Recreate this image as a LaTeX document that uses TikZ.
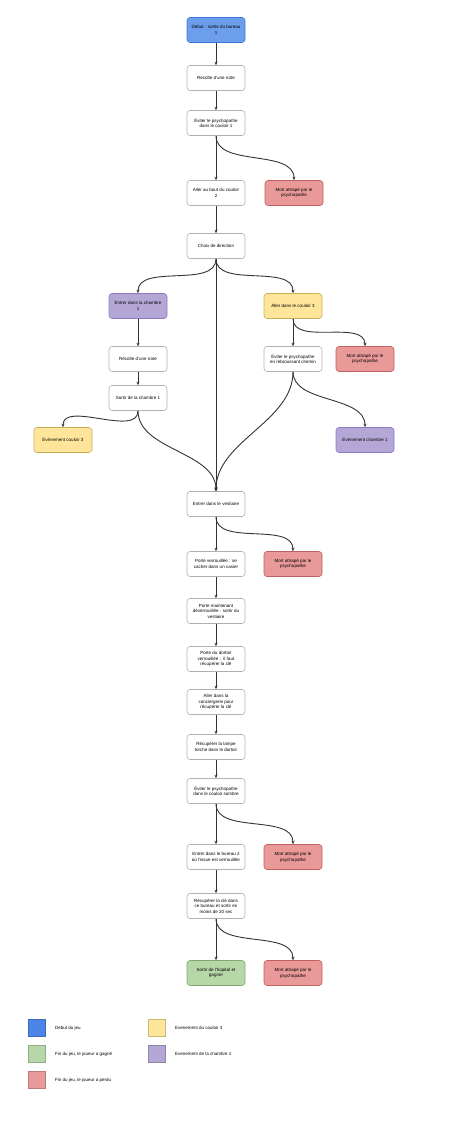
\documentclass[tikz,border=0pt]{standalone}
\usepackage{fontspec}
\setmainfont{Liberation Sans}
\usetikzlibrary{arrows.meta}
\definecolor{bluef}{HTML}{6D9EEB}\definecolor{blued}{HTML}{3C78D8}
\definecolor{blueleg}{HTML}{4A86E8}
\definecolor{redf}{HTML}{EA9999}\definecolor{redd}{HTML}{C06060}
\definecolor{yelf}{HTML}{FFE599}\definecolor{yeld}{HTML}{C9AE5A}
\definecolor{purf}{HTML}{B4A7D6}\definecolor{purd}{HTML}{8E7CC3}
\definecolor{grnf}{HTML}{B6D7A8}\definecolor{grnd}{HTML}{82A870}
\definecolor{boxd}{HTML}{B0B0B0}
\definecolor{edgec}{HTML}{333333}
\newcommand\myboxfont{\fontsize{4.5}{5.6}\selectfont}
\tikzset{
  box/.style={draw=boxd, fill=white, line width=0.6pt, rounded corners=3pt,
    minimum width=58pt, minimum height=25pt, align=center,
    inner sep=1pt, font=\myboxfont},
  bluebox/.style={box, fill=bluef, draw=blued},
  redbox/.style={box, fill=redf, draw=redd},
  yelbox/.style={box, fill=yelf, draw=yeld},
  purbox/.style={box, fill=purf, draw=purd},
  grnbox/.style={box, fill=grnf, draw=grnd},
  arr/.style={draw=edgec, line width=0.9pt, -{Stealth[length=3.5pt,width=3pt]}},
  carr/.style={arr, out=-90, in=90, looseness=0.9},
  legsq/.style={draw=#1!80!black, fill=#1, minimum width=17pt, minimum height=17pt, inner sep=0pt},
  legtx/.style={anchor=west, inner sep=0pt, font=\fontsize{4.5}{5.6}\selectfont},
}
\begin{document}
\begin{tikzpicture}[x=1pt,y=-1pt]
\useasboundingbox (0,0) rectangle (474,1137);
% main column
\node[bluebox] (n1) at (216,30) {Debut : sortie du bureau\\1};
\node[box] (n2) at (216,78) {Recolte d'une note};
\node[box] (n3) at (216,123) {Éviter le psychopathe\\dans le couloir 1};
\node[box] (n4) at (216,193) {Aller au bout du couloir\\2};
\node[redbox] (m1) at (294,193) {Mort attrapé par le\\psychopathe};
\node[box] (n5) at (216,246) {Choix de direction};
% left branch
\node[purbox] (c1) at (138,306) {Entrer dans la chambre\\1};
\node[box] (c2) at (138,359) {Récolte d'une note};
\node[box] (c3) at (138,398) {Sortir de la chambre 1};
\node[yelbox] (c4) at (63,440) {Évènement couloir 3};
% right branch
\node[yelbox] (r1) at (293,306) {Aller dans le couloir 3};
\node[box] (r2) at (293,359) {Éviter le psychopathe\\en rebroussant chemin};
\node[redbox] (m2) at (365,359) {Mort attrapé par le\\psychopathe};
\node[purbox] (r3) at (365,440) {Évènement chambre 1};
% lower column
\node[box] (v1) at (216,504) {Entrer dans le vestiaire};
\node[box] (v2) at (216,564) {Porte verrouillée : se\\cacher dans un casier};
\node[redbox] (m3) at (293,564) {Mort attrapé par le\\psychopathe};
\node[box] (v3) at (216,611) {Porte maintenant\\déverrouillée : sortir du\\vestiaire};
\node[box] (v4) at (216,659) {Porte du dortoir\\verrouillée :\ \ il faut\\récupérer la clé};
\node[box] (v5) at (216,702) {Aller dans la\\conciergerie pour\\récupérer la clé};
\node[box] (v6) at (216,747) {Récupérer la lampe\\torche dans le dortoir};
\node[box] (v7) at (216,791) {Éviter le psychopathe\\dans le couloir sombre};
\node[box] (v8) at (216,857) {Entrer dans le bureau 2\\où l'issue est verrouillée};
\node[redbox] (m4) at (293,857) {Mort attrapé par le\\psychopathe};
\node[box] (v9) at (216,906) {Récupérer la clé dans\\ce bureau et sortir en\\moins de 20 sec};
\node[grnbox] (w1) at (216,973) {Sortir de l'hopital et\\gagner};
\node[redbox] (m5) at (293,973) {Mort attrapé par le\\psychopathe};
% edges
\draw[arr] (n1) -- (n2);
\draw[arr] (n2) -- (n3);
\draw[arr] (n3) -- (n4);
\draw[carr] (n3.south) to (m1.north);
\draw[arr] (n4) -- (n5);
\draw[carr] (n5.south) to (c1.north);
\draw[carr] (n5.south) to (r1.north);
\draw[arr] (n5.south) -- (v1.north);
\draw[arr] (c1) -- (c2);
\draw[arr] (c2) -- (c3);
\draw[carr] (c3.south) to (c4.north);
\draw[carr] (c3.south) to (v1.north);
\draw[arr] (r1) -- (r2);
\draw[carr] (r1.south) to (m2.north);
\draw[carr] (r2.south) to (v1.north);
\draw[carr] (r2.south) to (r3.north);
\draw[arr] (v1) -- (v2);
\draw[carr] (v1.south) to (m3.north);
\draw[arr] (v2) -- (v3);
\draw[arr] (v3) -- (v4);
\draw[arr] (v4) -- (v5);
\draw[arr] (v5) -- (v6);
\draw[arr] (v6) -- (v7);
\draw[arr] (v7) -- (v8);
\draw[carr] (v7.south) to (m4.north);
\draw[arr] (v8) -- (v9);
\draw[arr] (v9) -- (w1);
\draw[carr] (v9.south) to (m5.north);
% legend
\node[legsq=blueleg] (l1) at (36.5,1028) {};
\node[legtx] (t1) at (55,1028) {Debut du jeu};
\node[legsq=grnf] (l2) at (36.5,1054) {};
\node[legtx] (t2) at (55,1054) {Fin du jeu, le joueur a gagné};
\node[legsq=redf] (l3) at (36.5,1080) {};
\node[legtx] (t3) at (55,1080) {Fin du jeu, le joueur a perdu};
\node[legsq=yelf] (l4) at (156.5,1028) {};
\node[legtx] (t4) at (175,1028) {Evenement du couloir 3};
\node[legsq=purf] (l5) at (156.5,1054) {};
\node[legtx] (t5) at (175,1054) {Evenement de la chambre 1};
\end{tikzpicture}
\end{document}
